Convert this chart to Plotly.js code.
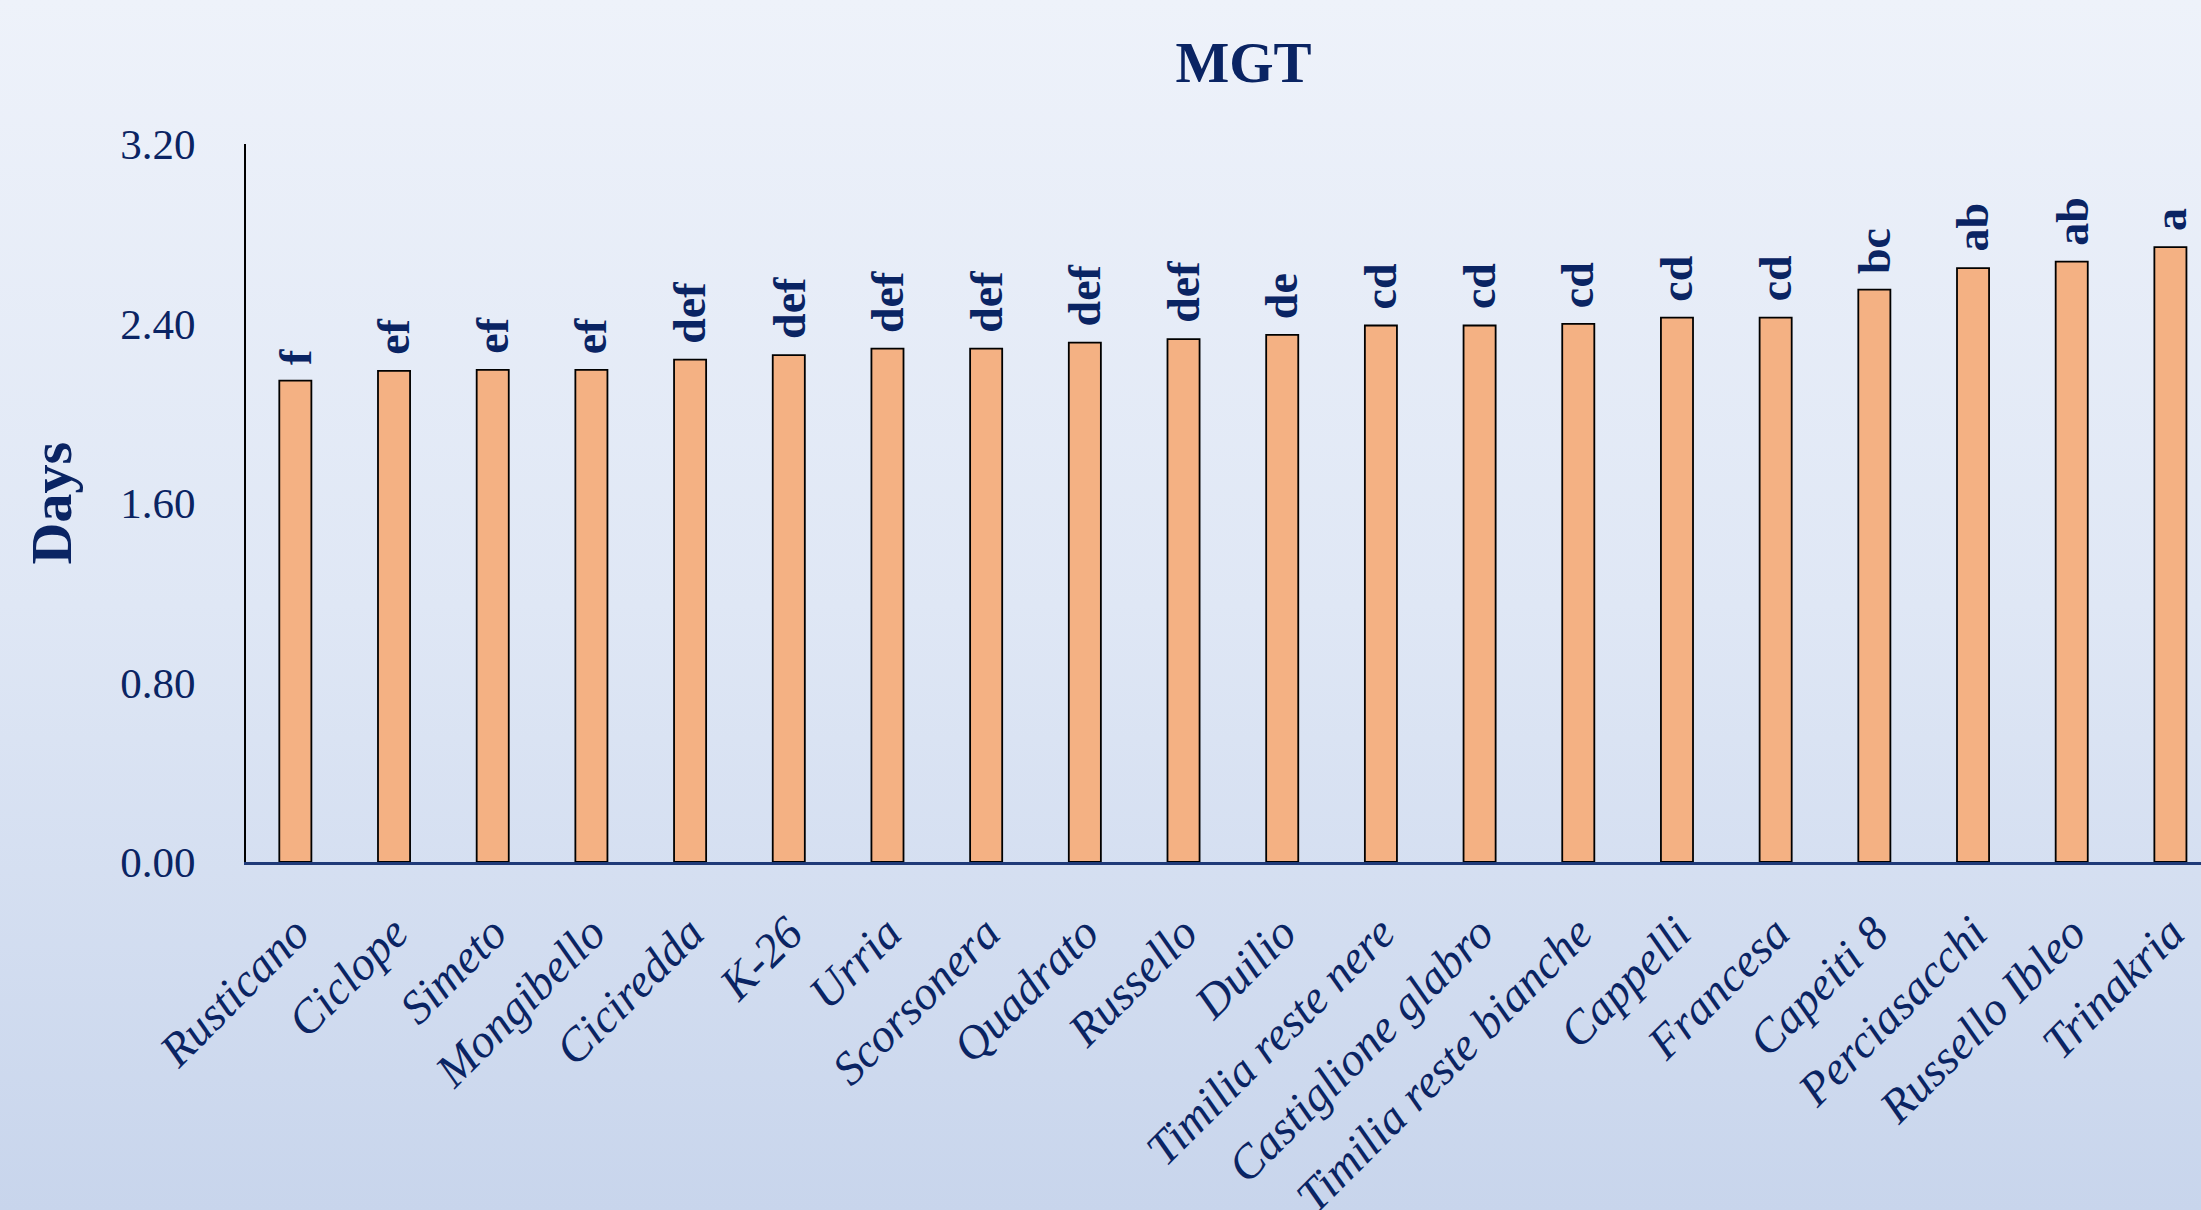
<!DOCTYPE html>
<html>
<head>
<meta charset="utf-8">
<script src="https://cdn.plot.ly/plotly-3.0.1.min.js"></script>
<style>
  html, body { margin: 0; padding: 0; }
  body { width: 2201px; height: 1210px; background: linear-gradient(to bottom, #EEF2FA 0%, #DFE7F5 50%, #C8D5EC 100%); }
  #chart { width: 2201px; height: 1210px; }
</style>
</head>
<body>
<div id="chart"></div>
<script>
const cultivars = ["Rusticano", "Ciclope", "Simeto", "Mongibello", "Ciciredda", "K-26", "Urria",
  "Scorsonera", "Quadrato", "Russello", "Duilio", "Timilia reste nere", "Castiglione glabro",
  "Timilia reste bianche", "Cappelli", "Francesa", "Capeiti 8", "Perciasacchi", "Russello Ibleo", "Trinakria"];
const mgtDays = [2.145, 2.189, 2.193, 2.193, 2.239, 2.259, 2.288, 2.288, 2.315, 2.330, 2.349,
  2.391, 2.391, 2.398, 2.426, 2.426, 2.551, 2.647, 2.676, 2.740];
const letters = ["f", "ef", "ef", "ef", "def", "def", "def", "def", "def", "def", "de",
  "cd", "cd", "cd", "cd", "cd", "bc", "ab", "ab", "a"];
const yTicks = [0, 0.8, 1.6, 2.4, 3.2];
const yTickText = ["0.00", "0.80", "1.60", "2.40", "3.20"];

const navy = "#0A2463";
const serif = "Liberation Serif, Times New Roman, serif";

const trace = {
  type: "bar",
  x: cultivars,
  y: mgtDays,
  width: 0.325,
  marker: { color: "#F4B183", line: { color: "#000000", width: 1.8 } },
  hoverinfo: "x+y",
  cliponaxis: false
};

const letterAnnotations = cultivars.map((c, i) => ({
  x: c, y: mgtDays[i], xref: "x", yref: "y",
  text: letters[i], showarrow: false, textangle: -90,
  xanchor: "center", yanchor: "bottom", yshift: 14,
  font: { family: serif, size: 46, color: navy, weight: "bold" }
}));

letterAnnotations.push({
  xref: "paper", yref: "paper", x: -0.0995, y: 0.5,
  text: "Days", showarrow: false, textangle: -90,
  xanchor: "center", yanchor: "middle",
  font: { family: serif, size: 58, color: navy, weight: "bold" }
});

const layout = {
  width: 2201, height: 1210,
  paper_bgcolor: "rgba(0,0,0,0)",
  plot_bgcolor: "rgba(0,0,0,0)",
  margin: { l: 246, r: 0, t: 144, b: 348, pad: 0 },
  showlegend: false,
  title: {
    text: "MGT", xref: "container", yref: "container",
    x: 0.565, y: 0.949, xanchor: "center", yanchor: "middle",
    font: { family: serif, size: 57, color: navy, weight: "bold" }
  },
  xaxis: {
    type: "category",
    range: [-0.5, 19.31],
    showline: true, linecolor: "#1F3A78", linewidth: 2.5,
    showgrid: false, zeroline: false, ticks: "",
    tickangle: -45, ticklabelstandoff: 22,
    tickfont: { family: serif, size: 47, color: navy, style: "italic" }
  },
  yaxis: {
    range: [0, 3.2],
    tickmode: "array", tickvals: yTicks, ticktext: yTickText,
    showline: true, linecolor: "#000000", linewidth: 2,
    showgrid: false, zeroline: false, ticks: "",
    ticklabelstandoff: 40,
    tickfont: { family: serif, size: 43, color: navy }
  },
  annotations: letterAnnotations
};

Plotly.newPlot("chart", [trace], layout, { displayModeBar: false, staticPlot: true });
</script>
</body>
</html>
